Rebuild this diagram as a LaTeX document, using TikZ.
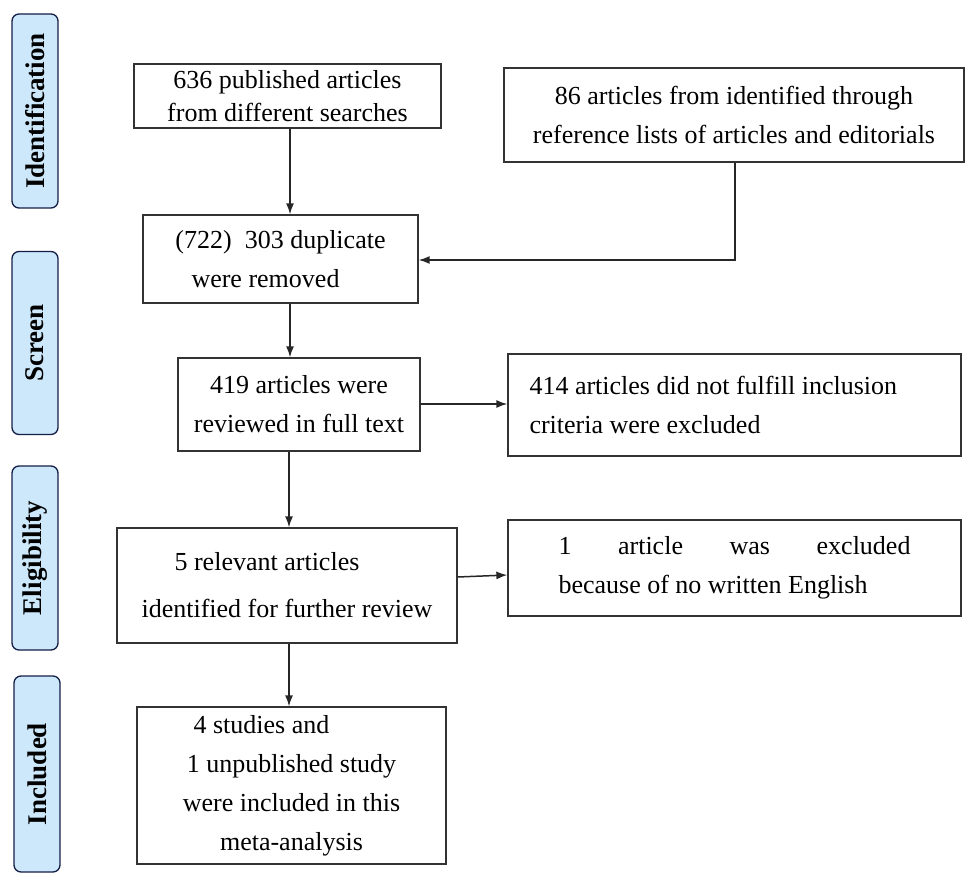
\documentclass[tikz,border=0pt]{standalone}
\usepackage{fontspec}
\setmainfont{Liberation Serif}
\usetikzlibrary{positioning,arrows.meta}
\definecolor{stagefill}{RGB}{204,232,250}
\definecolor{stageline}{RGB}{20,30,70}
\tikzset{
    flow-box/.style = {draw=black!80, fill=white, line width=1.3pt, rectangle, inner sep=0pt, align=center,
        font=\fontsize{26}{39}\selectfont},
    stage-box/.style = {draw=stageline, fill=stagefill, line width=1.3pt, rectangle, rounded corners=7pt,
        minimum height=46pt, inner sep=0pt, font=\bfseries\fontsize{27}{30}\selectfont},
    flow-arrow/.style = {draw=black!85, line width=1.5pt, -{Latex[length=11pt,width=8pt]}},
}
\newcommand{\boxat}[6]{% name, x1, y1, x2, y2, text
  \node[flow-box, minimum width={#4-#2}, minimum height={#5-#3}] (#1) at ({(#2+#4)/2},{(#3+#5)/2}) {#6};}
\begin{document}
\begin{tikzpicture}[x=1pt,y=-1pt]
\useasboundingbox (0,0) rectangle (976,885);
% stages
\node[stage-box, minimum width=194pt, rotate=90] (ident) at (35,111) {Identification};
\node[stage-box, minimum width=183pt, rotate=90] (screen) at (35,343) {Screen};
\node[stage-box, minimum width=184pt, rotate=90] (elig) at (35,558) {Eligibility};
\node[stage-box, minimum width=196pt, rotate=90] (incl) at (37,774) {Included};
% boxes
\boxat{pub}{134}{64}{441}{128}{\raisebox{-10pt}{\shortstack{636 published articles\\[6pt]from different searches}}}
\boxat{refs}{504}{68}{964}{162}{86 articles from identified through\\reference lists of articles and editorials}
\boxat{dup}{143}{215}{418}{303}{(722)\ \ 303 duplicate\\were removed\hspace*{30pt}}
\boxat{full}{178}{358}{420}{451}{419 articles were\\reviewed in full text}
\boxat{excl}{508}{354}{961}{456}{\begin{minipage}{410pt}\fontsize{26}{39}\selectfont 414 articles did not fulfill inclusion\\criteria were excluded\end{minipage}}
\boxat{rel}{117}{528}{457}{643}{5 relevant articles\hspace*{40pt}\\[8pt]identified for further review}
\boxat{eng}{508}{520}{961}{616}{\begin{minipage}{352pt}\fontsize{26}{39}\selectfont 1 article was excluded\linebreak because of no written English\end{minipage}}
\boxat{incl-box}{137}{707}{446}{864}{4 studies and\hspace*{60pt}\\1 unpublished study\hspace*{20pt}\\were included in this\\meta-analysis}
% connectors
\draw[flow-arrow] (pub.south -| 290,0) -- (dup.north -| 290,0);
\draw[flow-arrow] (refs.south -| 735,0) |- (dup.east |- 0,260);
\draw[flow-arrow] (dup.south -| 290,0) -- (full.north -| 290,0);
\draw[flow-arrow] (full.east |- 0,404) -- (excl.west |- 0,404);
\draw[flow-arrow] (full.south -| 289,0) -- (rel.north -| 289,0);
\draw[flow-arrow] (rel.east |- 0,577) -- (eng.west |- 0,575);
\draw[flow-arrow] (rel.south -| 289,0) -- (incl-box.north -| 289,0);
\end{tikzpicture}
\end{document}
